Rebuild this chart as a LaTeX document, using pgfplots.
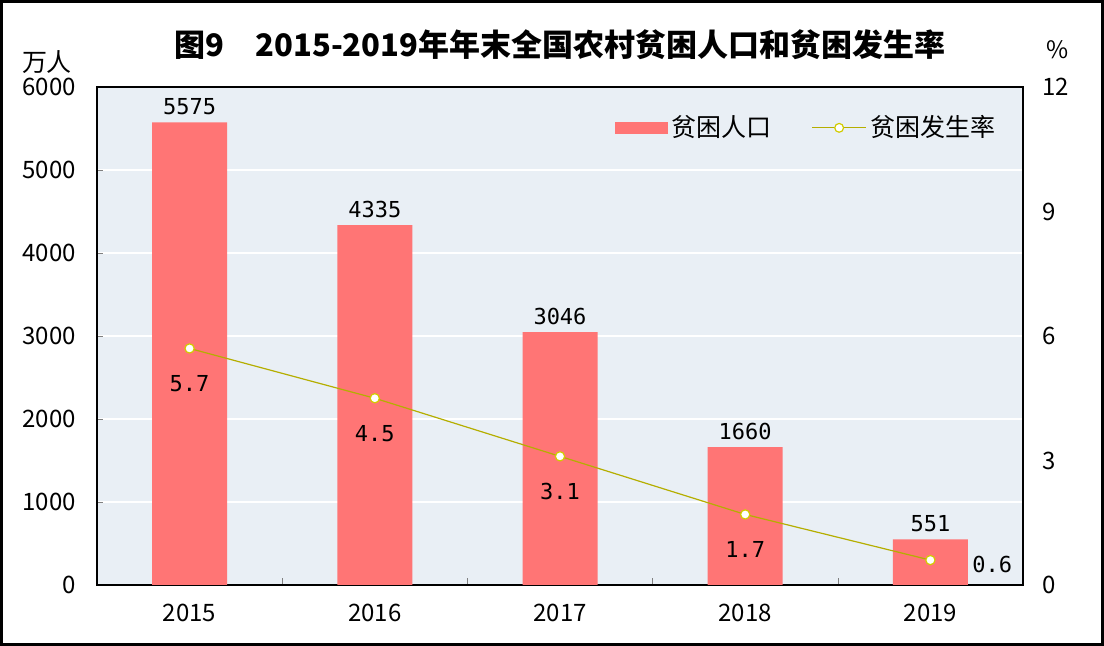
\documentclass[border=0pt]{standalone}
\usepackage{fontspec}
\setmainfont{Noto Sans CJK SC}
\newfontfamily\monofont{DejaVu Sans Mono}
\usepackage{pgfplots}
\pgfplotsset{compat=1.18}
\definecolor{bgblue}{HTML}{E9EFF5}
\definecolor{barred}{HTML}{FF7575}
\definecolor{lineol}{HTML}{B5AE00}
\definecolor{markyl}{HTML}{D2CC00}
\begin{document}
\begin{tikzpicture}[x=1pt,y=1pt]
\useasboundingbox (0,0) rectangle (552,323);
\draw[line width=1.5pt] (0.75,0.75) rectangle (551.25,322.25);
\node at (280,300.5) {\fontsize{15.5}{18}\selectfont\bfseries 图9\hspace{1em}2015-2019年年末全国农村贫困人口和贫困发生率};
\node at (23.5,292) {\fontsize{12.5}{15}\selectfont 万人};
\node at (529,298) {\fontsize{12}{14}\selectfont \%};
\begin{axis}[at={(48.5pt,30.5pt)}, anchor=south west, scale only axis,
  width=463pt, height=249pt,
  xmin=-0.5, xmax=4.5, ymin=0, ymax=6000,
  axis background/.style={fill=bgblue},
  axis line style={line width=0.8pt},
  xtick={0,1,2,3,4}, xticklabels={2015,2016,2017,2018,2019},
  minor xtick={0.5,1.5,2.5,3.5},
  every major x tick/.append style={draw=none},
  minor tick length=3.5pt, major tick length=3pt,
  xtick pos=bottom, ytick pos=left,
  ytick={0,1000,...,6000},
  ymajorgrids, grid style={white, line width=0.6pt},
  tick label style={font=\fontsize{12}{14}\selectfont},
  /pgf/number format/assume math mode=true,
  /pgf/number format/1000 sep={},
  yticklabel style={xshift=-7pt},
  xticklabel style={yshift=-6pt},
  legend style={at={(0.552,0.918)}, anchor=west, draw=none, fill=none,
    legend columns=2, font=\fontsize{12.5}{15}\selectfont,
    /tikz/every even column/.append style={column sep=18pt}},
  legend cell align=left,
]
\addplot[ybar, bar width=37.5pt, fill=barred, draw=none,
  point meta=explicit symbolic, nodes near coords,
  every node near coord/.append style={font=\monofont\fontsize{11}{13}\selectfont, text=black},
  legend image code/.code={\fill[barred] (0pt,-3pt) rectangle (26.5pt,3pt);}]
  coordinates {(0,5575)[5575] (1,4335)[4335] (2,3046)[3046] (3,1660)[1660] (4,551)[551]};
\addlegendentry{贫困人口}
\addlegendimage{legend image code/.code={\draw[lineol, line width=0.6pt] (0pt,0pt) -- (27pt,0pt); \draw[markyl, fill=white, line width=0.6pt] (13.5pt,0pt) circle (2.2pt);}}
\addlegendentry{贫困发生率}
\end{axis}
\begin{axis}[at={(48.5pt,30.5pt)}, anchor=south west, scale only axis,
  width=463pt, height=249pt,
  xmin=-0.5, xmax=4.5, ymin=0, ymax=12,
  axis y line*=right, axis x line=none,
  axis line style={line width=0.8pt},
  ytick={0,3,6,9,12}, major tick length=0pt,
  tick label style={font=\fontsize{12}{14}\selectfont},
  /pgf/number format/assume math mode=true,
  yticklabel style={anchor=west, xshift=6pt},
]
\addplot[lineol, line width=0.6pt, mark=*, mark size=2.3pt,
  mark options={fill=white, draw=markyl, line width=0.6pt}]
  coordinates {(0,5.7) (1,4.5) (2,3.1) (3,1.7) (4,0.6)};
\addplot[draw=none, mark=none, point meta=explicit symbolic, nodes near coords,
  nodes near coords align={below},
  every node near coord/.append style={font=\monofont\fontsize{11}{13}\selectfont, text=black, yshift=-10pt}]
  coordinates {(0,5.7)[5.7] (1,4.5)[4.5] (2,3.1)[3.1] (3,1.7)[1.7]};
\addplot[draw=none, mark=none, point meta=explicit symbolic, nodes near coords,
  every node near coord/.append style={font=\monofont\fontsize{11}{13}\selectfont, text=black, anchor=west, xshift=17.5pt, yshift=-2pt}]
  coordinates {(4,0.6)[0.6]};
\end{axis}
\end{tikzpicture}
\end{document}
